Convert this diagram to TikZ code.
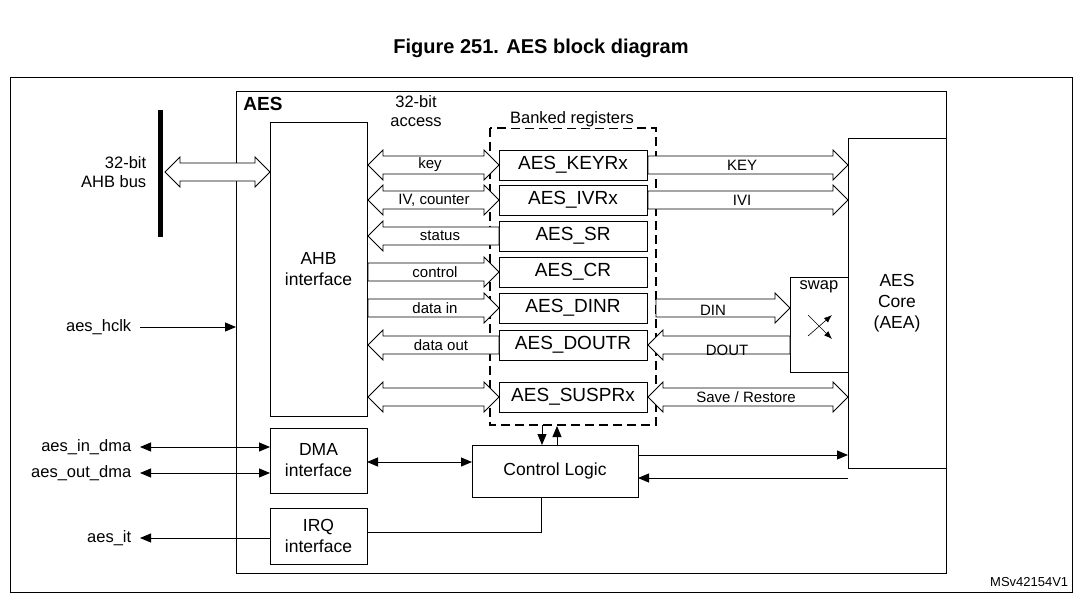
\documentclass[tikz,border=0pt]{standalone}
\usepackage{fontspec}
\setmainfont{Liberation Sans}
\usetikzlibrary{arrows.meta}
\newcommand\fatR[3]{\draw[fill=white] (#1,#3-9) -- (#2-15,#3-9) -- (#2-15,#3-15) -- (#2,#3) -- (#2-15,#3+15) -- (#2-15,#3+9) -- (#1,#3+9) -- cycle;}
\newcommand\fatL[3]{\draw[fill=white] (#2,#3-9) -- (#1+15,#3-9) -- (#1+15,#3-15) -- (#1,#3) -- (#1+15,#3+15) -- (#1+15,#3+9) -- (#2,#3+9) -- cycle;}
\newcommand\fatLR[3]{\draw[fill=white] (#1+15,#3-9) -- (#2-15,#3-9) -- (#2-15,#3-15) -- (#2,#3) -- (#2-15,#3+15) -- (#2-15,#3+9) -- (#1+15,#3+9) -- (#1+15,#3+15) -- (#1,#3) -- (#1+15,#3-15) -- cycle;}
\begin{document}
\begin{tikzpicture}[x=1pt,y=-1pt,line width=0.9pt,
  box/.style={draw,align=center,font=\fontsize{17.5}{21}\selectfont},
  reg/.style={draw,minimum width=148pt,minimum height=30pt,font=\fontsize{19}{21}\selectfont,inner sep=0pt},
  lbl/.style={font=\fontsize{15}{17}\selectfont},
  sig/.style={font=\fontsize{16.5}{19}\selectfont},
  arr/.style={-{Triangle[length=11pt,width=9pt]}},
  darr/.style={{Triangle[length=11pt,width=9pt]}-{Triangle[length=11pt,width=9pt]}}]
\useasboundingbox (0,0) rectangle (1082,605);
\node[font=\bfseries\fontsize{20}{24}\selectfont] (title) at (541,48) {Figure 251. AES block diagram};
\draw[line width=0.7pt] (10,77) rectangle (1072,592);
\node[font=\fontsize{13}{15}\selectfont,anchor=east] (ms) at (1072,582) {MSv42154V1};
\draw (236,91) rectangle (946,573);
\node[font=\bfseries\fontsize{19}{22}\selectfont] (aes) at (263,104) {AES};
% bus
\draw[line width=5pt] (160,110) -- (160,237);
\node[sig,align=right,anchor=east] (bus) at (150,172) {32-bit\\AHB bus};
\node[box,minimum width=97pt,minimum height=294pt] (ahb) at (318.5,269) {AHB\\interface};
\fatLR{165}{270}{172}
\node[sig,align=center] (acc) at (416,111) {32-bit\\access};
\draw[dash pattern=on 9pt off 5pt,line width=1.1pt] (490,128) rectangle (656,425);
\node[sig,fill=white,inner sep=1pt] (bank) at (572,119) {Banked registers};
\node[reg] (keyr) at (573,165) {AES\_KEYRx};
\node[reg] (ivr) at (573,200) {AES\_IVRx};
\node[reg] (sr) at (573,236) {AES\_SR};
\node[reg] (cr) at (573,272) {AES\_CR};
\node[reg] (dinr) at (573,308) {AES\_DINR};
\node[reg] (doutr) at (573,345) {AES\_DOUTR};
\node[reg] (suspr) at (573,397) {AES\_SUSPRx};
\fatLR{368}{499}{165}\node[lbl] (l1) at (430,165) {key};
\fatLR{368}{499}{200}\node[lbl] (l2) at (434,200) {IV, counter};
\fatL{368}{499}{236}\node[lbl] (l3) at (440,236) {status};
\fatR{368}{499}{272}\node[lbl] (l4) at (435,272) {control};
\fatR{368}{499}{308}\node[lbl] (l5) at (435,308) {data in};
\fatL{368}{499}{345}\node[lbl] (l6) at (441,345) {data out};
\fatLR{368}{499}{397}
% core
\node[box,minimum width=98pt,minimum height=330pt] (core) at (897,303) {AES\\Core\\(AEA)};
\node[draw,minimum width=58pt,minimum height=95pt] (swap) at (819,325) {};
\node[sig,anchor=north,inner sep=3pt] (swl) at (swap.north) {swap};
\draw[line width=0.6pt,-{Latex[length=8pt]}] (808,336) -- (832,315);
\draw[line width=0.6pt,-{Latex[length=8pt]}] (808,315) -- (832,339);
\fatR{648}{848}{165}\node[lbl] (k) at (742,165) {KEY};
\fatR{648}{848}{200}\node[lbl] (iv) at (742,200) {IVI};
\fatR{656}{790}{308}\node[lbl] (din) at (713,310) {DIN};
\fatL{648}{790}{345}\node[lbl] (dout) at (727,350) {DOUT};
\fatLR{648}{848}{397}\node[lbl] (sv) at (746,397) {Save / Restore};
% lower
\node[box,minimum width=97pt,minimum height=65pt] (dma) at (318.5,460.5) {DMA\\interface};
\node[box,minimum width=97pt,minimum height=56pt] (irq) at (318.5,536) {IRQ\\interface};
\node[box,minimum width=166pt,minimum height=52pt] (ctl) at (555,471) {Control Logic};
\node[sig,anchor=east] (hclk) at (135,327) {aes\_hclk};
\node[sig,anchor=east] (indma) at (135,447) {aes\_in\_dma};
\node[sig,anchor=east] (outdma) at (135,473) {aes\_out\_dma};
\node[sig,anchor=east] (it) at (135,538) {aes\_it};
\draw[arr] (hclk.east)++(5,0) -- (236,327);
\draw[darr] (indma.east)++(5,0) -- (270,447);
\draw[darr] (outdma.east)++(5,0) -- (270,473);
\draw[arr] (irq.west |- it) -- ([xshift=5pt]it.east);
\draw[darr] (367,462) -- (472,462);
\draw[arr] (542,425) -- (542,445);
\draw[arr] (557,446) -- (557,426);
\draw[arr] (638,455) -- (848,455);
\draw[arr] (848,478) -- (638,478);
\draw (541,497) -- (541,532) -- (367,532);
\end{tikzpicture}
\end{document}
